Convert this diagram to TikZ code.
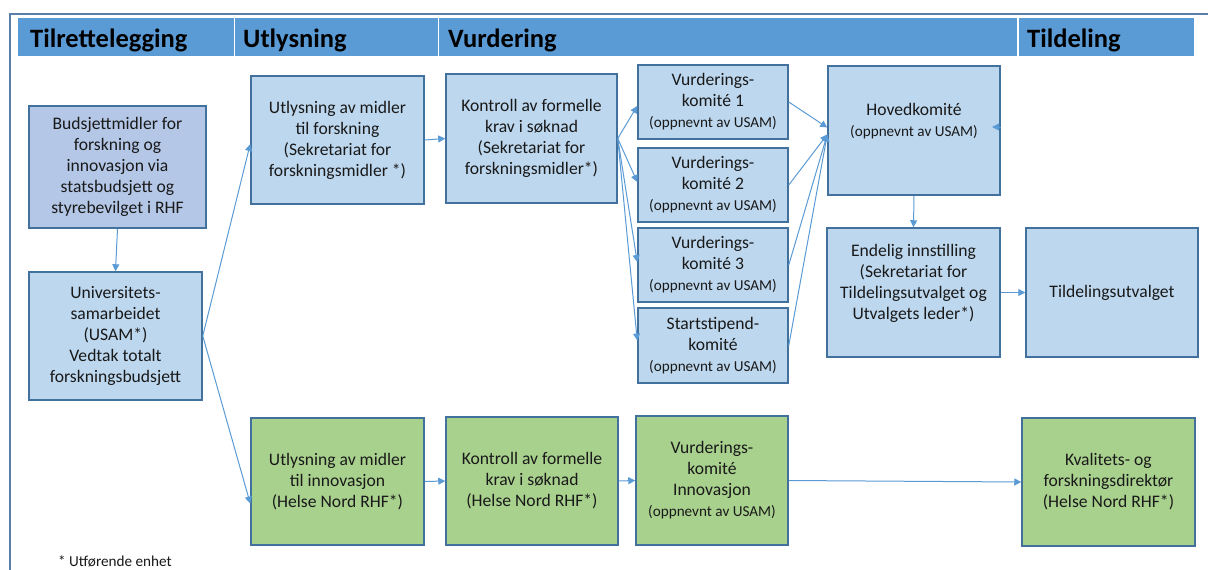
\documentclass[tikz,border=0pt]{standalone}
\usepackage{fontspec}
\setmainfont{Carlito}
\usetikzlibrary{arrows.meta,calc}
\definecolor{hdr}{HTML}{5B9BD5}
\definecolor{bluefill}{HTML}{BDD7EE}
\definecolor{budfill}{HTML}{B4C7E7}
\definecolor{greenfill}{HTML}{A9D18E}
\definecolor{border}{HTML}{41719C}
\definecolor{arrcol}{HTML}{5B9BD5}
\definecolor{framecol}{HTML}{5A7FA8}
\newcommand\mkbox[7]{\node[#1, minimum width={(#5-#3)*1pt}, minimum height={(#6-#4)*1pt}] (#2) at ({(#3+#5)/2},{(#4+#6)/2}) {#7};}
\newcommand\sm[1]{{\fontsize{15.2}{18}\selectfont #1}}
\tikzset{
  basebox/.style={draw=border, line width=1.5pt, inner sep=0pt, align=center,
    font=\fontsize{17.6}{21}\selectfont, text=black!90},
  bluebox/.style={basebox, fill=bluefill},
  budbox/.style={basebox, fill=budfill},
  greenbox/.style={basebox, fill=greenfill},
  hdrcell/.style={fill=hdr, draw=white, line width=1.2pt, inner sep=0pt},
  hdrtext/.style={font=\fontsize{26.5}{30}\selectfont\bfseries, text=black, inner sep=0pt, anchor=base west},
  arr/.style={draw=arrcol, line width=1pt, -{Triangle[length=7pt,width=7pt]}},
  framestyle/.style={draw=framecol, line width=1.6pt},
}
\begin{document}
\begin{tikzpicture}[x=1pt,y=-1pt]
\useasboundingbox (0,0) rectangle (1208,570);
\fill[white] (0,0) rectangle (1208,570);
% frame
\draw[framestyle] (10,640) -- (10,14) -- (1230,14);
% header band
\mkbox{hdrcell}{h1}{17}{17}{234.5}{57}{}
\mkbox{hdrcell}{h2}{234.5}{17}{438.5}{57}{}
\mkbox{hdrcell}{h3}{438.5}{17}{1018}{57}{}
\mkbox{hdrcell}{h4}{1018}{17}{1195}{57}{}
\node[hdrtext] (t1) at (30,47) {Tilrettelegging};
\node[hdrtext] (t2) at (243,47) {Utlysning};
\node[hdrtext] (t3) at (448,47) {Vurdering};
\node[hdrtext] (t4) at (1027,47) {Tildeling};
% boxes
\mkbox{budbox}{bud}{29}{106}{206}{228}{Budsjettmidler for\\forskning og\\innovasjon via\\statsbudsjett og\\styrebevilget i RHF}
\mkbox{bluebox}{usam}{29}{272}{202}{400}{Universitets-\\samarbeidet\\(USAM*)\\Vedtak totalt\\forskningsbudsjett}
\mkbox{bluebox}{utf}{251}{76}{424}{204}{Utlysning av midler\\til forskning\\(Sekretariat for\\forskningsmidler *)}
\mkbox{bluebox}{kf}{446}{74}{617}{203}{Kontroll av formelle\\krav i søknad\\(Sekretariat for\\forskningsmidler*)}
\mkbox{bluebox}{vk1}{638}{65}{788}{139}{Vurderings-\\komité 1\\\sm{(oppnevnt av USAM)}}
\mkbox{bluebox}{vk2}{638}{148}{788}{222}{Vurderings-\\komité 2\\\sm{(oppnevnt av USAM)}}
\mkbox{bluebox}{vk3}{638}{228}{788}{302}{Vurderings-\\komité 3\\\sm{(oppnevnt av USAM)}}
\mkbox{bluebox}{ss}{638}{308}{788}{383}{Startstipend-\\komité\\\sm{(oppnevnt av USAM)}}
\node[bluebox, minimum width=172pt, minimum height=129pt,
  label={[name=hkt, align=center, font=\fontsize{17.6}{21}\selectfont, text=black!90, yshift=9pt]center:Hovedkomité\\\sm{(oppnevnt av USAM)}}]
  (hk) at (914,130.5) {};
\node[bluebox, minimum width=173pt, minimum height=129pt,
  label={[name=eit, align=center, font=\fontsize{17.6}{21}\selectfont, text=black!90, yshift=9pt]center:Endelig innstilling\\(Sekretariat for\\Tildelingsutvalget og\\Utvalgets leder*)}]
  (ei) at (913.5,292.5) {};
\mkbox{bluebox}{tu}{1026}{228}{1198}{357}{Tildelingsutvalget}
\mkbox{greenbox}{ui}{251}{418}{424}{545}{Utlysning av midler\\til innovasjon\\(Helse Nord RHF*)}
\mkbox{greenbox}{ki}{446}{417}{618}{545}{Kontroll av formelle\\krav i søknad\\(Helse Nord RHF*)}
\mkbox{greenbox}{vi}{636}{416}{788}{545}{Vurderings-\\komité\\Innovasjon\\\sm{(oppnevnt av USAM)}}
\mkbox{greenbox}{kv}{1022}{418}{1195}{546}{Kvalitets- og\\forskningsdirektør\\(Helse Nord RHF*)}
% footnote
\node[font=\fontsize{15.2}{18}\selectfont, text=black!90, inner sep=0pt, anchor=base west] (fn) at (58,566) {* Utførende enhet};
% connectors
\draw[arr] (bud.south) -- (usam.north);
\draw[arr] (usam.east) -- ([yshift=-4pt]utf.west);
\draw[arr] (usam.east) -- ([yshift=-22pt]ui.west);
\draw[arr] (utf.east) -- (kf.west);
\draw[arr] (kf.east) -- ([yshift=-4pt]vk1.west);
\draw[arr] (kf.east) -- ([yshift=3pt]vk2.west);
\draw[arr] (kf.east) -- ([yshift=3pt]vk3.west);
\draw[arr] (kf.east) -- ([yshift=5pt]ss.west);
\draw[arr] (vk1.east) -- ([yshift=3pt]hk.west);
\draw[arr] (vk2.east) -- ([yshift=-4pt]hk.west);
\draw[arr] (vk3.east) -- ([yshift=-4pt]hk.west);
\draw[arr] (ss.east) -- ([yshift=-4pt]hk.west);
\coordinate (hks) at (992,127);
\draw[arr] (hks -| hk.east) -- (hks);
\draw[arr] (hk.south) -- (ei.north);
\draw[arr] (ei.east) -- (tu.west);
\draw[arr] (ui.east) -- (ki.west);
\draw[arr] (ki.east) -- (vi.west);
\draw[arr] (vi.east) -- (kv.west);
\end{tikzpicture}
\end{document}
